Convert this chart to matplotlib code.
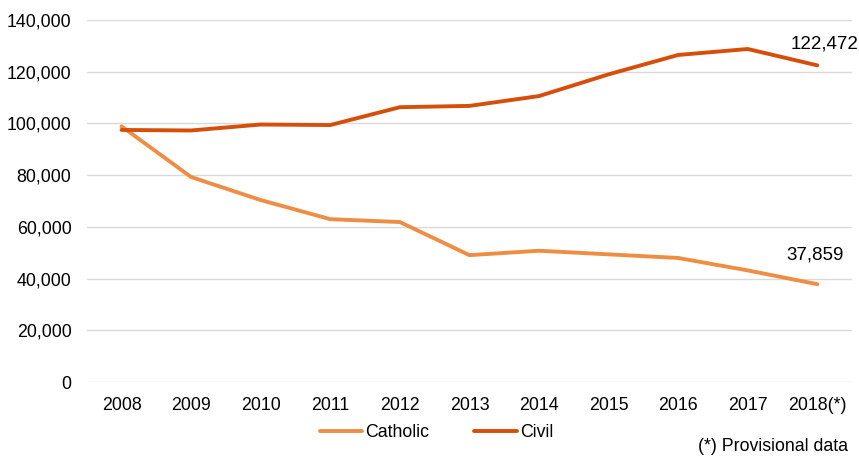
import matplotlib
matplotlib.use("Agg")
import matplotlib.pyplot as plt
from matplotlib.ticker import FuncFormatter

plt.rcParams['font.family'] = ['Liberation Sans', 'DejaVu Sans']

years = ["2008", "2009", "2010", "2011", "2012", "2013", "2014", "2015", "2016", "2017", "2018(*)"]
catholic = [98900, 79300, 70400, 63000, 61900, 49100, 50800, 49400, 48000, 43200, 37859]
civil = [97500, 97300, 99600, 99400, 106300, 106800, 110600, 119000, 126500, 128800, 122472]

c_cath = "#EE8E45"
c_civ = "#D64F0A"

fig = plt.figure(figsize=(8.59, 4.66), dpi=100)
ax = fig.add_axes([0.101, 0.180, 0.891, 0.777])

x = list(range(len(years)))
ax.plot(x, catholic, color=c_cath, lw=2.8, label="Catholic", solid_capstyle="round")
ax.plot(x, civil, color=c_civ, lw=2.8, label="Civil", solid_capstyle="round")

ax.set_xlim(-0.5, len(years) - 0.5)
ax.set_ylim(0, 140000)
ax.set_yticks(range(0, 140001, 20000))
ax.yaxis.set_major_formatter(FuncFormatter(lambda v, p: f"{int(v):,}"))
ax.set_xticks(x)
ax.set_xticklabels(years)
ax.tick_params(axis="both", length=0, labelsize=12.8, colors="#000000")
ax.tick_params(axis="x", pad=11)
ax.tick_params(axis="y", pad=11)
ax.grid(axis="y", color="#D9D9D9", lw=1)
ax.set_axisbelow(True)
for s in ax.spines.values():
    s.set_visible(False)

ax.annotate(f"{civil[-1]:,}", (x[-1], civil[-1]), xytext=(5, 9), textcoords="offset points",
            ha="center", va="bottom", fontsize=13.5, annotation_clip=False)
ax.annotate(f"{catholic[-1]:,}", (x[-1], catholic[-1]), xytext=(-2, 15), textcoords="offset points",
            ha="center", va="bottom", fontsize=13.5)

leg = fig.legend(loc="center", bbox_to_anchor=(0.508, 0.071), ncol=2, frameon=False,
                 fontsize=12.8, handlelength=2.4, handletextpad=0.15, columnspacing=2.55)

fig.text(0.987, 0.024, "(*) Provisional data", ha="right", va="bottom", fontsize=12.8)

fig.savefig("out.png", dpi=100)
